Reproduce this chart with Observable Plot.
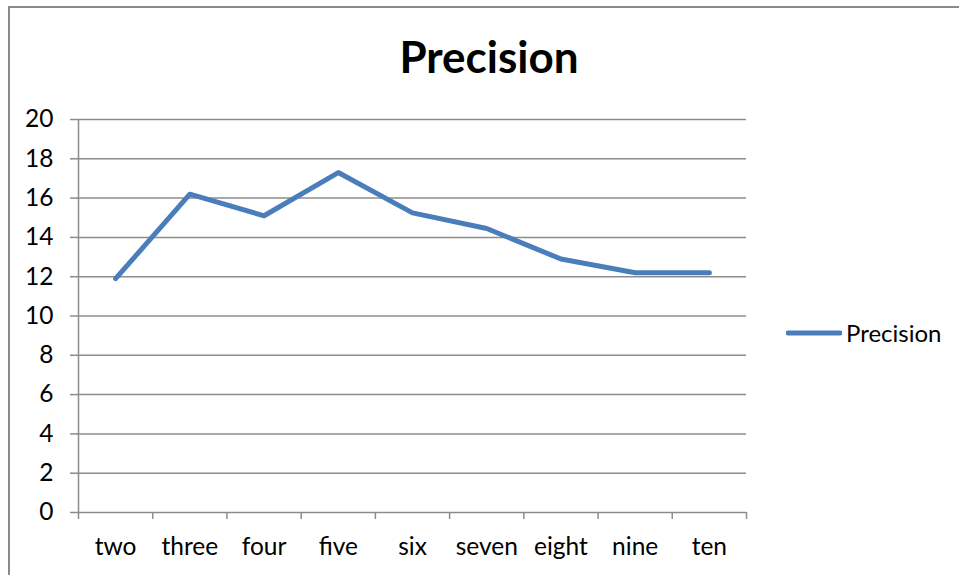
<!DOCTYPE html>
<html>
<head>
<meta charset="utf-8">
<script src="https://cdn.jsdelivr.net/npm/d3@7"></script>
<script src="https://cdn.jsdelivr.net/npm/@observablehq/plot@0.6"></script>
<style>
  html, body { margin: 0; padding: 0; background: #fff; }
  #chart {
    position: relative;
    width: 959px;
    height: 575px;
    overflow: hidden;
    font-family: Lato, "Open Sans", sans-serif;
  }
  #frame {
    position: absolute;
    left: 8px; top: 6px; right: -4px; bottom: -4px;
    border-left: 2px solid #8a8a8a;
    border-top: 2px solid #8a8a8a;
    pointer-events: none;
  }
  #title {
    position: absolute;
    left: 0; top: 30px;
    width: 978px;
    text-align: center;
    font-weight: 700;
    font-size: 44px;
    line-height: 52px;
    color: #000;
  }
  #plot { position: absolute; left: 0; top: 0; }
  #legend {
    position: absolute;
    left: 786px; top: 318px;
    display: flex; align-items: center;
    font-size: 24px; color: #000;
  }
  #legend svg { margin-right: 4px; }
</style>
</head>
<body>
<div id="chart">
  <div id="frame"></div>
  <div id="plot"></div>
  <div id="title"></div>
  <div id="legend"></div>
</div>
<script>
// Number of clusters and the precision obtained for each
const categories = ["two", "three", "four", "five", "six", "seven", "eight", "nine", "ten"];
const precision = [11.9, 16.2, 15.1, 17.3, 15.25, 14.45, 12.9, 12.2, 12.2];
const yTicks = [0, 2, 4, 6, 8, 10, 12, 14, 16, 18, 20];
const seriesName = "Precision";
const chartTitle = "Precision";

const lineColor = "#4a7ebb";
const gridColor = "#8c8c8c";

const rows = categories.map((c, i) => ({category: c, index: i, value: precision[i]}));
const boundaries = d3.range(categories.length + 1);
const centers = d3.range(categories.length).map(i => i + 0.5);

const chart = Plot.plot({
  width: 959,
  height: 575,
  marginLeft: 78,
  marginRight: 213,
  marginTop: 119,
  marginBottom: 63,
  style: {fontFamily: "Lato, 'Open Sans', sans-serif", background: "transparent"},
  x: {type: "linear", domain: [0, categories.length]},
  y: {domain: [0, 20]},
  marks: [
    Plot.ruleY(yTicks, {stroke: gridColor, strokeWidth: 1.5}),
    Plot.ruleX([0], {stroke: gridColor, strokeWidth: 1.5}),
    Plot.axisY({
      ticks: yTicks, tickSize: 8, tickPadding: 17,
      stroke: gridColor, strokeWidth: 1.5, strokeOpacity: 1,
      fontSize: 24.5, fill: "#000", label: null
    }),
    Plot.axisX({
      ticks: boundaries, tickSize: 7, tickFormat: () => "",
      stroke: gridColor, strokeWidth: 1.5, strokeOpacity: 1, label: null
    }),
    Plot.axisX({
      ticks: centers, tickSize: 0, tickPadding: 25,
      tickFormat: d => categories[Math.floor(d)],
      fontSize: 24.5, fill: "#000", label: null
    }),
    Plot.line(rows, {
      x: d => d.index + 0.5, y: "value",
      stroke: lineColor, strokeWidth: 5,
      strokeLinecap: "round", strokeLinejoin: "round"
    })
  ]
});
document.getElementById("plot").appendChild(chart);

document.getElementById("title").textContent = chartTitle;

const legend = document.getElementById("legend");
legend.innerHTML =
  `<svg width="56" height="10"><line x1="2" x2="54" y1="5" y2="5" stroke="${lineColor}" stroke-width="5" stroke-linecap="round"/></svg><span></span>`;
legend.querySelector("span").textContent = seriesName;
</script>
</body>
</html>
